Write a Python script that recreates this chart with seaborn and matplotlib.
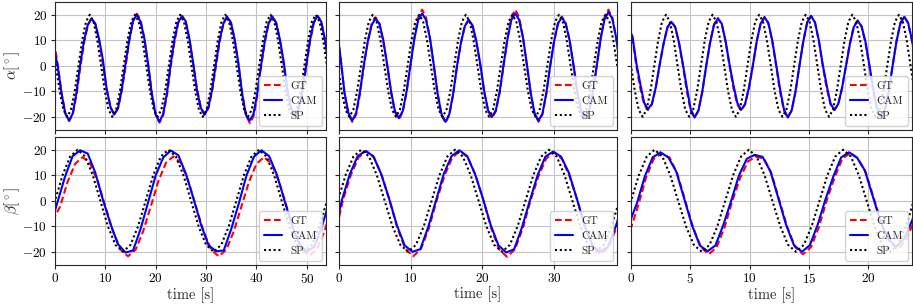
import numpy as np
import pandas as pd
import matplotlib
matplotlib.use("Agg")
import matplotlib.pyplot as plt
import seaborn as sns

# ---------------- data ----------------
# Each panel: sampling grid start, step (s), per-series lag (s) and values (deg)
# Column 1 : alpha (top) / beta (bottom)
A_T0, A_STEP, A_LAG_GT, A_LAG_CAM = -0.5725, 0.7475, 0.40, 0.35
A_SP = [10, 0, -10, -17.3, -20, -17.3, -10, 0, 10, 17.3, 20, 17.3,
        10, 0, -10, -17.3, -20, -17.3, -10, 0, 10, 17.3, 20, 17.3,
        10, 0, -10, -17.3, -20, -17.3, -10, 0, 10, 17.3, 20, 17.3,
        10, 0, -10, -17.3, -20, -17.3, -10, 0, 10, 17.3, 20, 17.3,
        10, 0, -10, -17.3, -20, -17.3, -10, 0, 10, 17.3, 20, 17.3,
        10, 0, -10, -17.3, -20, -17.3, -10, 0, 10, 17.3, 20, 17.3,
        10, 0]
A_GT = [9.5, 0, -10.9, -18.8, -21.7, -18.8, -10.9, 0, 9.4, 16.2, 18.7, 16.2,
        9.4, 0, -9.6, -16.5, -19.1, -16.5, -9.6, 0, 10.2, 17.7, 20.4, 17.7,
        10.2, 0, -11.2, -19.3, -22.3, -19.3, -11.2, 0, 9.8, 17.0, 19.6, 17.0,
        9.8, 0, -9.6, -16.5, -19.1, -16.5, -9.6, 0, 9.7, 16.7, 19.3, 16.7,
        9.7, 0, -11.3, -19.6, -22.6, -19.6, -11.3, 0, 9.7, 16.7, 19.3, 16.7,
        9.7, 0, -9.8, -16.9, -19.5, -16.9, -9.8, 0, 9.8, 17.0, 19.6, 17.0,
        9.8, 0]
A_CAM = [7, 0, -10.5, -18.5, -21.5, -18.8, -10.5, 0.5, 9.8, 16, 18.5, 16.5,
         10.5, 2.5, -9, -16, -19.2, -16.8, -9.5, 0.5, 10, 17.5, 20, 17.3,
         11, 1, -11, -19, -22, -19, -11, 0.5, 10, 17, 19.4, 17.5,
         10.5, 1, -9.5, -16.5, -19.2, -16.5, -9.5, 0.5, 10, 16.5, 19.2, 17,
         10.5, 1, -11, -19.3, -21.5, -19, -11, 0, 9.5, 16.5, 19.3, 17,
         10.5, 2, -9.5, -16.8, -19.5, -16.8, -9.5, 0, 9.8, 17, 19.5, 17.3,
         10, 0]

B_T0, B_STEP, B_LAG_GT, B_LAG_CAM = -1.5, 1.5, 1.0, 0.5
B_SP = [-10, 0, 10, 17.3, 20, 17.3, 10, 0, -10, -17.3, -20, -17.3,
        -10, 0, 10, 17.3, 20, 17.3, 10, 0, -10, -17.3, -20, -17.3,
        -10, 0, 10, 17.3, 20, 17.3, 10, 0, -10, -17.3, -20, -17.3,
        -10, 0, 10]
B_GT = [-8, -2.3, 7.4, 14.5, 17.1, 14.5, 7.4, -2.3, -12.0, -19.2, -21.8, -19.2,
        -12.0, -2.3, 7.5, 14.8, 17.4, 14.8, 7.5, -2.3, -12.0, -19.2, -21.8, -19.2,
        -12.0, -2.3, 7.4, 14.5, 17.1, 14.5, 7.4, -2.3, -12.0, -19.0, -21.5, -19.0,
        -12.0, -2.3, 7.4]
B_CAM = [-10.5, -0.5, 9.5, 17.5, 19.8, 18.5, 11, 0.5, -9, -17, -20.3, -19.5,
         -11, -0.5, 10, 17, 19.7, 17.8, 10.5, 0.8, -9.5, -17.5, -19.8, -19.5,
         -11, -1, 9.8, 17.3, 19.8, 17.5, 10.5, 0.5, -9.5, -17, -20, -18,
         -10, 0, 10]

# Column 2
C_T0, C_STEP, C_LAG_GT, C_LAG_CAM = -0.7167, 0.54167, 0.40, 0.40
C_SP = [10, 0, -10, -17.3, -20, -17.3, -10, 0, 10, 17.3, 20, 17.3,
        10, 0, -10, -17.3, -20, -17.3, -10, 0, 10, 17.3, 20, 17.3,
        10, 0, -10, -17.3, -20, -17.3, -10, 0, 10, 17.3, 20, 17.3,
        10, 0, -10, -17.3, -20, -17.3, -10, 0, 10, 17.3, 20, 17.3,
        10, 0, -10, -17.3, -20, -17.3, -10, 0, 10, 17.3, 20, 17.3,
        10, 0, -10, -17.3, -20, -17.3, -10, 0, 10, 17.3, 20, 17.3,
        10, 0]
C_GT = [15, 3, -11, -19.1, -22, -19.1, -11, 0, 9.5, 16.5, 19, 16.5,
        9.5, 0, -10.5, -18.2, -21, -18.2, -10.5, 0, 11, 19, 22, 19,
        11, 0, -11.2, -19.4, -22.4, -19.4, -11.2, 0, 9, 15.6, 18, 15.6,
        9, 0, -10.3, -17.8, -20.6, -17.8, -10.3, 0, 11, 19, 22, 19,
        11, 0, -11, -19.1, -22, -19.1, -11, 0, 9.7, 16.7, 19.3, 16.7,
        9.7, 0, -10.5, -18.2, -21, -18.2, -10.5, 0, 11, 19, 22, 19,
        11, 0]
C_CAM = [15, 3, -10.5, -18.5, -21.5, -18.5, -10, 0.5, 9.5, 16, 18.5, 16.5,
         10, 0.5, -10, -17.8, -20.5, -17.8, -10, 0.5, 10.5, 18, 20.5, 18,
         11, 0.5, -11, -19, -22, -19, -11, 0, 9, 15.5, 18, 15.8,
         9.5, 0.5, -10, -17.5, -20, -17.5, -10, 0.5, 10.5, 18, 20.5, 18,
         11, 0.5, -10.8, -18.8, -21.5, -18.8, -10.8, 0, 9.5, 16.5, 19, 16.5,
         10, 0.5, -10.3, -17.8, -20.5, -17.8, -10.3, 0, 10.5, 18.2, 21, 18.5,
         11, 0.5]

D_T0, D_STEP, D_LAG_GT, D_LAG_CAM = -1.267, 1.0917, 0.70, 0.60
D_SP = [-10, 0, 10, 17.3, 20, 17.3, 10, 0, -10, -17.3, -20, -17.3,
        -10, 0, 10, 17.3, 20, 17.3, 10, 0, -10, -17.3, -20, -17.3,
        -10, 0, 10, 17.3, 20, 17.3, 10, 0, -10, -17.3, -20, -17.3,
        -10, 0, 10]
D_GT = [-14, 0, 9.8, 16.9, 19.5, 16.9, 9.8, 0, -10.9, -18.9, -21.8, -18.9,
        -10.9, 0, 9.8, 16.9, 19.5, 16.9, 9.8, 0, -11, -19.1, -22, -19.1,
        -11, 0, 9.5, 16.5, 19, 16.5, 9.5, 0, -10.5, -18.2, -21, -18.2,
        -10.5, 0, 9.5]
D_CAM = [-13, 0.5, 10.5, 17.5, 19.5, 17.5, 10.5, 1, -9.5, -17.5, -20, -19,
         -10.5, 0, 10.5, 17.5, 19.8, 17.5, 10.5, 1, -9.5, -17.5, -20.3, -19,
         -10.5, 0, 10, 17.3, 19.3, 17.3, 11, 1, -9.5, -17.5, -20, -18,
         -10, 0, 10]

# Column 3
E_T0, E_STEP, E_LAG_GT, E_LAG_CAM = -0.655, 0.3275, 0.45, 0.45
E_SP = [17.3, 10, 0, -10, -17.3, -20, -17.3, -10, 0, 10, 17.3, 20,
        17.3, 10, 0, -10, -17.3, -20, -17.3, -10, 0, 10, 17.3, 20,
        17.3, 10, 0, -10, -17.3, -20, -17.3, -10, 0, 10, 17.3, 20,
        17.3, 10, 0, -10, -17.3, -20, -17.3, -10, 0, 10, 17.3, 20,
        17.3, 10, 0, -10, -17.3, -20, -17.3, -10, 0, 10, 17.3, 20,
        17.3, 10, 0, -10, -17.3, -20, -17.3, -10, 0, 10, 17.3, 20,
        17.3, 10, 0, -10]
E_GT = [15, 11, 0, -8.7, -15.1, -17.4, -15.1, -8.7, 0, 8.7, 15.1, 17.4,
        15.1, 8.7, 0, -10.2, -17.6, -20.3, -17.6, -10.2, 0, 9.4, 16.2, 18.7,
        16.2, 9.4, 0, -8.8, -15.2, -17.6, -15.2, -8.8, 0, 9.6, 16.5, 19.1,
        16.5, 9.6, 0, -10.2, -17.6, -20.3, -17.6, -10.2, 0, 9.8, 17, 19.6,
        17, 9.8, 0, -8.7, -15.1, -17.4, -15.1, -8.7, 0, 8.9, 15.4, 17.8,
        15.4, 8.9, 0, -10, -17.3, -20, -17.3, -10, 0, 9.7, 16.7, 19.3,
        16.7, 9.7, 0, -9]
E_CAM = [15, 11.5, 1, -7, -14.5, -17, -15, -8.5, 0.5, 8.5, 15, 17.2,
         15.3, 9, 0.5, -8.5, -17, -20.3, -17.5, -10, 0, 9, 16, 18.5,
         16.5, 9.5, 0.5, -7.5, -14.5, -17.3, -15, -8.5, 0, 9.5, 16.5, 19,
         16.8, 10, 0.5, -9, -17, -20.3, -17.5, -10, 0, 9.5, 17, 19.5,
         17, 10, 0.5, -7.5, -14.8, -17.3, -15, -8.5, 0, 8.5, 15.2, 17.6,
         15.5, 9.5, 0.5, -9, -17, -20, -17.3, -10, 0, 9.5, 16.7, 19.2,
         16.8, 10, 0.5, -8.5]

F_T0, F_STEP, F_LAG_GT, F_LAG_CAM = -0.6625, 0.6625, 0.60, 0.50
F_SP = [-10, 0, 10, 17.3, 20, 17.3, 10, 0, -10, -17.3, -20, -17.3,
        -10, 0, 10, 17.3, 20, 17.3, 10, 0, -10, -17.3, -20, -17.3,
        -10, 0, 10, 17.3, 20, 17.3, 10, 0, -10, -17.3, -20, -17.3,
        -10, 0, 10]
F_GT = [-11.5, -2, 9, 16.5, 18.5, 17, 10.5, 0, -10.5, -18.2, -21, -18.2,
        -10.5, 0, 9, 15.5, 17.2, 16.6, 10.5, 0, -10.5, -18.2, -21, -18.2,
        -10.5, 0, 9, 16.5, 18.7, 16.5, 11, 1, -9, -16, -19, -16,
        -9, 0, 9]
F_CAM = [-9, -1, 9.5, 17, 19, 17, 11.5, 1, -9.5, -17.5, -19.8, -17.5,
         -9.5, 0, 10, 16.5, 18, 17.2, 11.5, 1, -9.5, -17.5, -20, -17.5,
         -9.5, 0.5, 9.5, 17, 19, 17, 12, 2, -8, -15, -18, -15,
         -8, 0, 9]

DURATIONS = [53.8, 38.8, 23.7]
X_TICKS = [[0, 10, 20, 30, 40, 50], [0, 10, 20, 30], [0, 5, 10, 15, 20]]
Y_TICKS = [-20, -10, 0, 10, 20]
ROW_LABELS = [r"$\alpha[^\circ]$", r"$\beta[^\circ]$"]
X_LABEL = "time [s]"
SERIES = ["GT", "CAM", "SP"]

panels = [
    [(A_T0, A_STEP, A_LAG_GT, A_LAG_CAM, A_SP, A_GT, A_CAM),
     (C_T0, C_STEP, C_LAG_GT, C_LAG_CAM, C_SP, C_GT, C_CAM),
     (E_T0, E_STEP, E_LAG_GT, E_LAG_CAM, E_SP, E_GT, E_CAM)],
    [(B_T0, B_STEP, B_LAG_GT, B_LAG_CAM, B_SP, B_GT, B_CAM),
     (D_T0, D_STEP, D_LAG_GT, D_LAG_CAM, D_SP, D_GT, D_CAM),
     (F_T0, F_STEP, F_LAG_GT, F_LAG_CAM, F_SP, F_GT, F_CAM)],
]

# ---------------- style ----------------
sns.set_style("ticks")
plt.rcParams.update({
    "font.family": "serif",
    "font.serif": ["cmr10"],
    "mathtext.fontset": "cm",
    "axes.formatter.use_mathtext": True,
    "font.size": 9.5,
    "axes.edgecolor": "0.15",
    "axes.linewidth": 0.8,
    "xtick.color": "0.15",
    "ytick.color": "0.15",
    "xtick.labelcolor": "black",
    "ytick.labelcolor": "black",
    "xtick.direction": "out",
    "ytick.direction": "out",
    "xtick.major.size": 3,
    "ytick.major.size": 3,
    "xtick.major.pad": 2.5,
    "ytick.major.pad": 2.5,
    "xtick.labelsize": 9.5,
    "ytick.labelsize": 9.5,
    "legend.fontsize": 8,
})

styles = {
    "GT": dict(color="#ff0000", linestyle=(0, (3.2, 1.6)), linewidth=1.5),
    "CAM": dict(color="#0000ff", linestyle="-", linewidth=1.5),
    "SP": dict(color="black", linestyle=(0, (1, 1.3)), linewidth=1.5),
}

W, H = 913, 305
fig = plt.figure(figsize=(W / 100, H / 100), dpi=100)
col_px = [(55, 326), (339, 617), (631, 912)]
row_px = [(2, 129.5), (137, 264.5)]

for r in range(2):
    for c in range(3):
        x0, x1 = col_px[c]
        y0, y1 = row_px[r]
        ax = fig.add_axes([x0 / W, 1 - y1 / H, (x1 - x0) / W, (y1 - y0) / H])
        t0, step, lag_gt, lag_cam, sp, gt, cam = panels[r][c]
        grid = t0 + step * np.arange(len(sp))
        frames = []
        for name, vals, lag in (("GT", gt, lag_gt), ("CAM", cam, lag_cam), ("SP", sp, 0.0)):
            frames.append(pd.DataFrame({"t": grid + lag, "v": vals, "series": name}))
        df = pd.concat(frames, ignore_index=True)
        for name in SERIES:
            sub = df[df["series"] == name]
            sns.lineplot(data=sub, x="t", y="v", ax=ax, label=name,
                         estimator=None, sort=False, **styles[name])
        ax.set_xlim(0, DURATIONS[c])
        ax.set_ylim(-25, 25)
        ax.set_xticks(X_TICKS[c])
        ax.set_yticks(Y_TICKS)
        ax.grid(True, color="#c4c4c4", linewidth=0.8)
        ax.set_axisbelow(True)
        for s in ax.spines.values():
            s.set_visible(True)
        if r == 0:
            ax.set_xticklabels([])
            ax.set_xlabel("")
        else:
            ax.set_xlabel(X_LABEL, fontsize=10.5, labelpad=1)
        if c == 0:
            ax.set_ylabel(ROW_LABELS[r], fontsize=11)
            # right edge of the rotated label ~22 px from the figure's left edge
            ax.yaxis.set_label_coords((22 - x0) / (x1 - x0), 0.5)
        else:
            ax.set_yticklabels([])
            ax.set_ylabel("")
        leg = ax.legend(loc="lower right", framealpha=0.85, edgecolor="0.8",
                        handlelength=1.6, handletextpad=0.8, borderpad=0.45,
                        labelspacing=0.45, borderaxespad=0.35)

fig.savefig("out.png", dpi=100)
